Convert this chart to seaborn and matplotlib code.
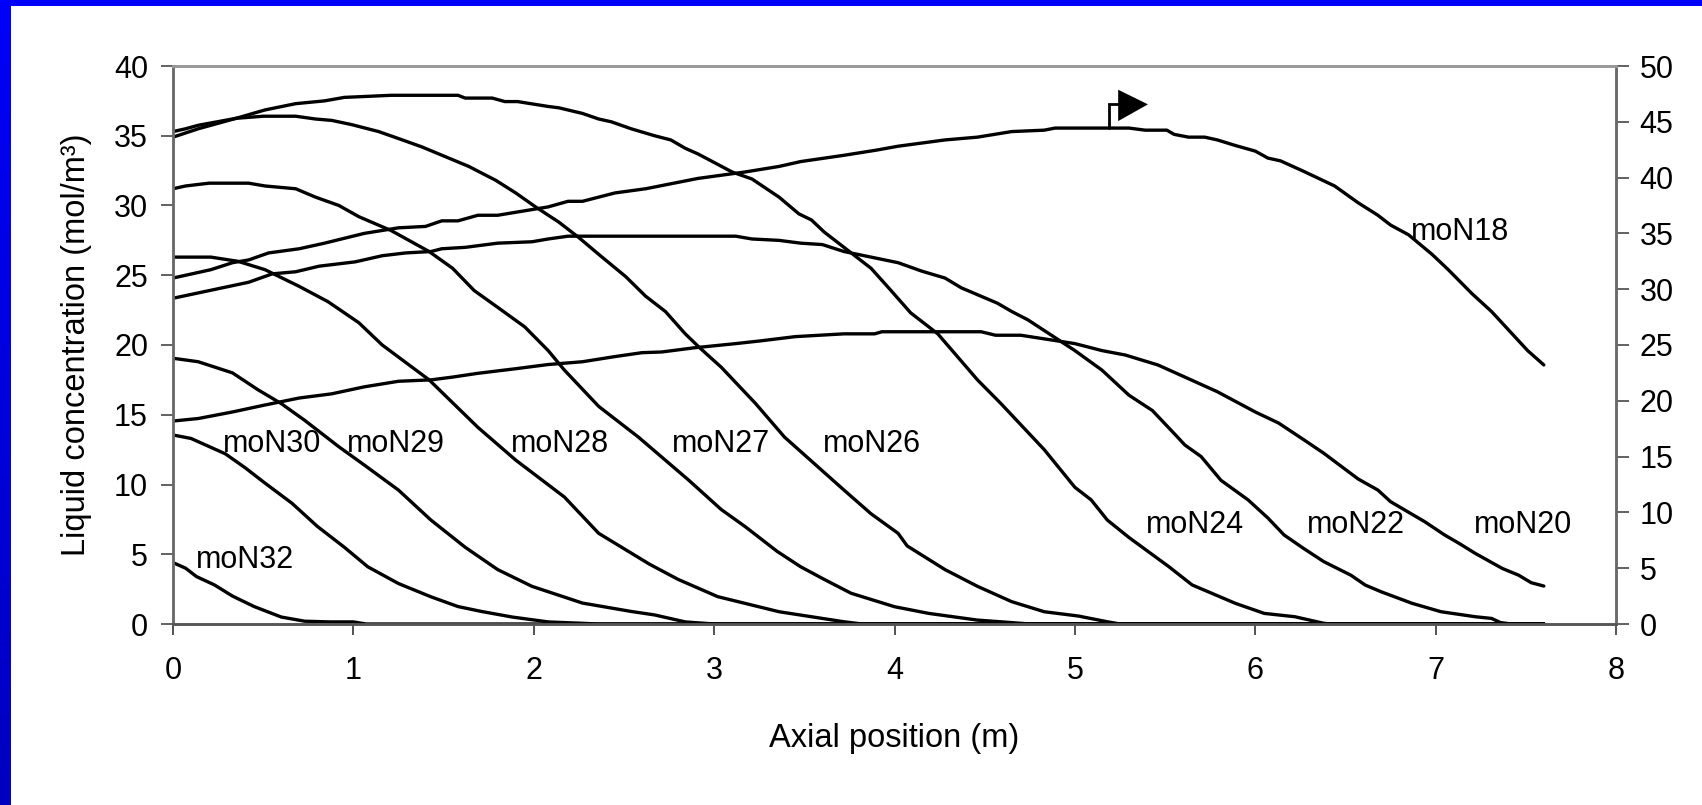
import matplotlib
matplotlib.use("Agg")
import numpy as np
import pandas as pd
import matplotlib.pyplot as plt
import seaborn as sns
from matplotlib.colors import LinearSegmentedColormap

# ---------------- data (x = axial position m, y = liquid concentration mol/m3) ----------------
moN32 = [(0, 4.4), (0.07, 4.0), (0.13, 3.4), (0.23, 2.8), (0.33, 2.0), (0.45, 1.25), (0.60, 0.5),
         (0.73, 0.2), (0.87, 0.15), (1.0, 0.15), (1.07, 0), (7.6, 0)]
moN30 = [(0, 13.55), (0.10, 13.3), (0.29, 12.2), (0.40, 11.2), (0.51, 10.1), (0.66, 8.65), (0.80, 7.0),
         (0.95, 5.5), (1.08, 4.1), (1.25, 2.9), (1.43, 1.95), (1.58, 1.25), (1.71, 0.9), (1.88, 0.5),
         (2.08, 0.15), (2.27, 0.05), (2.35, 0), (7.6, 0)]
moN29 = [(0, 19.05), (0.14, 18.8), (0.33, 18.0), (0.47, 16.8), (0.60, 15.8), (0.73, 14.6), (0.92, 12.7),
         (1.06, 11.4), (1.25, 9.6), (1.43, 7.45), (1.62, 5.5), (1.80, 3.9), (1.99, 2.7), (2.27, 1.5),
         (2.54, 0.9), (2.67, 0.65), (2.84, 0.15), (3.0, 0), (7.6, 0)]
moN28 = [(0, 26.3), (0.21, 26.3), (0.36, 26.0), (0.51, 25.4), (0.70, 24.2), (0.86, 23.1), (1.03, 21.6),
         (1.16, 20.0), (1.42, 17.5), (1.69, 14.1), (1.90, 11.75), (2.17, 9.1), (2.36, 6.5), (2.64, 4.3),
         (2.80, 3.2), (3.02, 1.96), (3.36, 0.88), (3.54, 0.52), (3.72, 0.16), (3.82, 0), (7.6, 0)]
moN27 = [(0, 31.2), (0.07, 31.4), (0.20, 31.6), (0.42, 31.6), (0.51, 31.4), (0.68, 31.2), (0.79, 30.6),
         (0.92, 30.0), (1.03, 29.2), (1.21, 28.2), (1.42, 26.7), (1.55, 25.5), (1.67, 23.9), (1.80, 22.7),
         (1.95, 21.3), (2.08, 19.6), (2.17, 18.2), (2.36, 15.6), (2.58, 13.4), (2.86, 10.3), (3.04, 8.2),
         (3.17, 7.0), (3.35, 5.2), (3.48, 4.1), (3.61, 3.2), (3.76, 2.2), (4.0, 1.24), (4.19, 0.76),
         (4.46, 0.28), (4.65, 0.1), (4.75, 0), (7.6, 0)]
moN26 = [(0, 35.3), (0.07, 35.5), (0.14, 35.75), (0.35, 36.25), (0.50, 36.4), (0.68, 36.4), (0.79, 36.2),
         (0.88, 36.1), (0.99, 35.8), (1.14, 35.3), (1.25, 34.8), (1.38, 34.2), (1.51, 33.5), (1.64, 32.8),
         (1.79, 31.8), (1.90, 30.9), (2.01, 29.9), (2.14, 28.8), (2.25, 27.7), (2.36, 26.5), (2.51, 24.9),
         (2.62, 23.5), (2.73, 22.4), (2.84, 20.8), (2.92, 19.8), (3.04, 18.4), (3.23, 15.8), (3.39, 13.4),
         (3.72, 9.6), (3.87, 7.9), (4.02, 6.5), (4.07, 5.6), (4.28, 3.9), (4.46, 2.7), (4.65, 1.6),
         (4.83, 0.88), (5.02, 0.57), (5.18, 0.16), (5.25, 0), (7.6, 0)]
moN24 = [(0, 34.9), (0.07, 35.2), (0.14, 35.5), (0.35, 36.25), (0.51, 36.85), (0.68, 37.3), (0.84, 37.5),
         (0.95, 37.75), (1.21, 37.9), (1.58, 37.9), (1.62, 37.7), (1.77, 37.7), (1.84, 37.45), (1.91, 37.45),
         (2.08, 37.1), (2.14, 37.0), (2.27, 36.6), (2.36, 36.2), (2.43, 36.0), (2.54, 35.5), (2.67, 35.0),
         (2.76, 34.7), (2.84, 34.1), (2.91, 33.7), (3.10, 32.4), (3.21, 31.9), (3.36, 30.6), (3.47, 29.4),
         (3.54, 28.96), (3.61, 28.1), (3.76, 26.6), (3.87, 25.5), (3.97, 24.06), (4.09, 22.3), (4.24, 20.8),
         (4.46, 17.5), (4.59, 15.8), (4.83, 12.5), (5.0, 9.8), (5.09, 8.9), (5.18, 7.45), (5.30, 6.2),
         (5.52, 4.12), (5.65, 2.8), (5.89, 1.48), (6.05, 0.76), (6.22, 0.52), (6.38, 0.05), (6.42, 0), (7.6, 0)]
moN22 = [(0, 23.35), (0.23, 23.98), (0.42, 24.5), (0.55, 25.1), (0.68, 25.25), (0.81, 25.65), (1.01, 25.96),
         (1.16, 26.4), (1.29, 26.6), (1.43, 26.7), (1.49, 26.9), (1.62, 27.0), (1.80, 27.3), (1.99, 27.4),
         (2.08, 27.6), (2.19, 27.8), (3.12, 27.8), (3.21, 27.6), (3.36, 27.5), (3.48, 27.3), (3.60, 27.2),
         (3.72, 26.7), (3.87, 26.3), (4.02, 25.9), (4.15, 25.3), (4.28, 24.8), (4.37, 24.1), (4.57, 23.0),
         (4.65, 22.4), (4.74, 21.8), (5.0, 19.6), (5.15, 18.2), (5.30, 16.4), (5.43, 15.3), (5.55, 13.66),
         (5.61, 12.83), (5.70, 12.0), (5.81, 10.3), (5.96, 8.9), (6.07, 7.6), (6.16, 6.38), (6.27, 5.4),
         (6.38, 4.47), (6.53, 3.5), (6.61, 2.79), (6.70, 2.3), (6.87, 1.48), (7.03, 0.88), (7.22, 0.52),
         (7.31, 0.4), (7.36, 0.1), (7.42, 0), (7.6, 0)]
moN20 = [(0, 14.55), (0.14, 14.73), (0.33, 15.2), (0.51, 15.7), (0.70, 16.2), (0.88, 16.5), (1.06, 17.0),
         (1.25, 17.4), (1.43, 17.5), (1.55, 17.7), (1.69, 17.97), (1.90, 18.3), (2.08, 18.6), (2.27, 18.8),
         (2.45, 19.17), (2.60, 19.45), (2.71, 19.5), (2.89, 19.8), (3.12, 20.1), (3.26, 20.3), (3.45, 20.6),
         (3.72, 20.8), (3.89, 20.8), (3.93, 20.95), (4.48, 20.95), (4.56, 20.7), (4.70, 20.7), (5.0, 20.1),
         (5.15, 19.6), (5.28, 19.28), (5.46, 18.57), (5.61, 17.7), (5.79, 16.65), (6.0, 15.2), (6.13, 14.4),
         (6.27, 13.2), (6.38, 12.24), (6.57, 10.4), (6.68, 9.6), (6.75, 8.77), (6.94, 7.33), (7.05, 6.38),
         (7.13, 5.78), (7.22, 5.06), (7.37, 3.98), (7.46, 3.5), (7.53, 2.96), (7.6, 2.72)]
moN18 = [(0, 24.8), (0.07, 25.0), (0.21, 25.4), (0.33, 25.9), (0.42, 26.1), (0.53, 26.6), (0.70, 26.9),
         (0.84, 27.3), (1.06, 28.0), (1.25, 28.4), (1.40, 28.5), (1.49, 28.9), (1.58, 28.9), (1.69, 29.3),
         (1.80, 29.3), (2.08, 29.9), (2.19, 30.3), (2.27, 30.3), (2.45, 30.9), (2.62, 31.2), (2.91, 31.94),
         (3.17, 32.4), (3.36, 32.8), (3.48, 33.15), (3.72, 33.6), (3.90, 33.97), (4.02, 34.25), (4.28, 34.7),
         (4.46, 34.9), (4.65, 35.3), (4.83, 35.4), (4.89, 35.55), (5.30, 35.55), (5.39, 35.4), (5.51, 35.4),
         (5.55, 35.1), (5.63, 34.9), (5.72, 34.9), (5.79, 34.7), (5.89, 34.3), (6.0, 33.9), (6.07, 33.4),
         (6.14, 33.2), (6.26, 32.5), (6.44, 31.4), (6.57, 30.2), (6.68, 29.3), (6.75, 28.6), (6.85, 27.9),
         (6.98, 26.5), (7.07, 25.4), (7.20, 23.7), (7.31, 22.4), (7.51, 19.6), (7.6, 18.57)]

series = {"moN32": moN32, "moN30": moN30, "moN29": moN29, "moN28": moN28, "moN27": moN27,
          "moN26": moN26, "moN24": moN24, "moN22": moN22, "moN20": moN20, "moN18": moN18}

# label anchor (x, baseline y) in data units
label_pos = {"moN32": (0.40, 4.0), "moN30": (0.55, 12.35), "moN29": (1.235, 12.35),
             "moN28": (2.145, 12.35), "moN27": (3.04, 12.35), "moN26": (3.873, 12.35),
             "moN24": (5.665, 6.55), "moN22": (6.558, 6.55), "moN20": (7.483, 6.55),
             "moN18": (7.134, 27.53)}

x_ticks = list(range(0, 9))
y_left_ticks = list(range(0, 45, 5))
y_right_ticks = list(range(0, 55, 5))

# flag marker (data units)
flag_x = 5.19
flag_base = 35.55
flag_top = 37.25
flag_tri_x = [5.24, 5.24, 5.405]
flag_tri_y = [36.05, 38.3, 37.25]

rows = []
for name, pts in series.items():
    for i, (x, y) in enumerate(pts):
        rows.append({"series": name, "order": i, "x": x, "y": y})
df = pd.DataFrame(rows)

# ---------------- figure ----------------
sns.set_theme(style="white")
plt.rcParams["font.family"] = ["Liberation Sans", "DejaVu Sans"]
plt.rcParams["text.color"] = "black"
plt.rcParams["axes.labelcolor"] = "black"

FS = 22
W, H = 1702, 805
fig = plt.figure(figsize=(W / 100, H / 100), dpi=100)
fig.patch.set_facecolor("white")

ax = fig.add_axes([173 / W, 1 - 624 / H, (1616 - 173) / W, (624 - 66) / H])

for name in series:
    sub = df[df["series"] == name]
    sns.lineplot(data=sub, x="x", y="y", ax=ax, color="black", linewidth=2.4,
                 estimator=None, sort=False, legend=False)

for name, (lx, ly) in label_pos.items():
    ax.text(lx, ly, name, fontsize=FS, ha="center", va="baseline", color="black")

# flag
ax.plot([flag_x, flag_x, flag_tri_x[0]], [flag_base, flag_top, flag_top], color="black", lw=2.0,
        solid_joinstyle="miter")
ax.fill(flag_tri_x, flag_tri_y, color="black", lw=0)

ax.set_xlim(0, 8)
ax.set_ylim(0, 40)
ax.set_xticks(x_ticks)
ax.set_yticks(y_left_ticks)
ax.set_xlabel("Axial position (m)", fontsize=23.5, labelpad=27, color="black")
ax.set_ylabel("Liquid concentration (mol/m³)", fontsize=23.5, labelpad=16, color="black")
ax.tick_params(axis="x", bottom=True, direction="out", length=8, width=1.3, color="#444444",
               labelsize=FS, pad=15, labelcolor="black")
ax.tick_params(axis="y", left=True, direction="out", length=9, width=1.3, color="#555555",
               labelsize=FS, pad=9, labelcolor="black")

ax2 = ax.twinx()
ax2.set_ylim(0, 50)
ax2.set_yticks(y_right_ticks)
ax2.tick_params(axis="y", right=True, direction="out", length=9, width=1.3, color="#555555",
                labelsize=FS, pad=8, labelcolor="black")
ax2.grid(False)
ax.grid(False)

for a in (ax, ax2):
    a.spines["top"].set_color("#999999")
    a.spines["top"].set_linewidth(2.0)
    a.spines["left"].set_color("#6a6a6a")
    a.spines["left"].set_linewidth(1.8)
    a.spines["right"].set_color("#6a6a6a")
    a.spines["right"].set_linewidth(1.8)
    a.spines["bottom"].set_color("#555555")
    a.spines["bottom"].set_linewidth(1.8)

# blue frame (left gradient + top bar)
bar_l = fig.add_axes([0, 0, 11 / W, 1])
grad = np.linspace(0, 1, 256).reshape(-1, 1)
cmap = LinearSegmentedColormap.from_list("b", ["#0000f8", "#0000c0"])
bar_l.imshow(grad, aspect="auto", cmap=cmap, extent=[0, 1, 0, 1], origin="upper")
bar_l.set_axis_off()
bar_t = fig.add_axes([0, 1 - 6 / H, 1, 6 / H])
bar_t.set_facecolor("#0000ff")
bar_t.set_xticks([]); bar_t.set_yticks([])
for s in bar_t.spines.values():
    s.set_visible(False)

fig.savefig("out.png", dpi=100, facecolor="white")
